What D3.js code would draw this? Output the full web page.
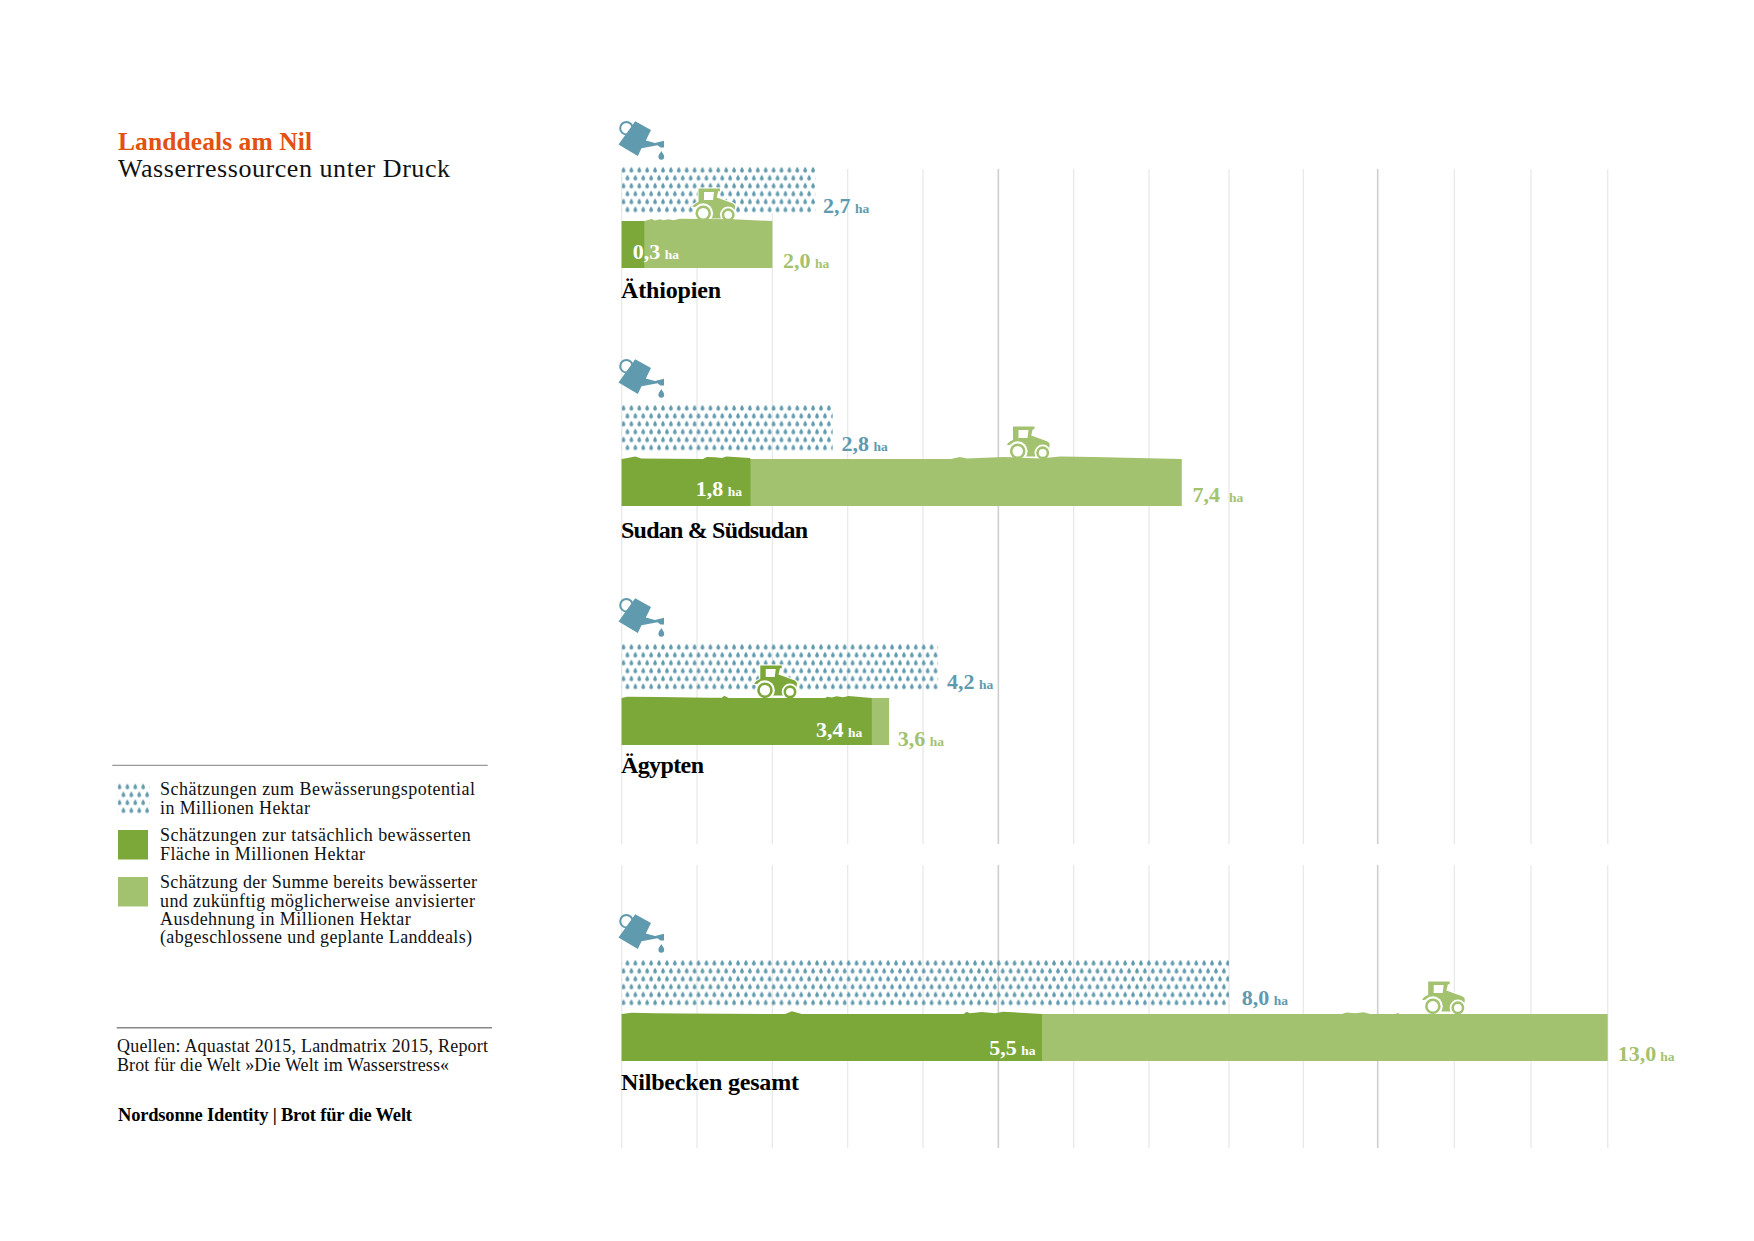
<!DOCTYPE html>
<html>
<head>
<meta charset="utf-8">
<script src="https://cdn.jsdelivr.net/npm/d3@7"></script>
<style>
  html, body { margin: 0; background: #fff; }
  text { font-family: "Liberation Serif", serif; }
</style>
</head>
<body>
<div id="container"></div>
<script>
/* DATA */
const regions = ["Äthiopien", "Sudan & Südsudan", "Ägypten", "Nilbecken gesamt"];
const gridTicks = [0, 1, 2, 3, 4, 5, 6, 7, 8, 9, 10, 11, 12, 13];

// the drawn lengths do not always agree with the printed labels
const potential = [2.57, 2.8, 4.2, 8.0];
const irrigated = [0.3, 1.71, 3.32, 5.58];
const planned = [2.0, 7.41, 3.55, 13.0];
const potentialLabels = ["2,7", "2,8", "4,2", "8,0"];
const irrigatedLabels = ["0,3", "1,8", "3,4", "5,5"];
const plannedLabels = ["2,0", "7,4", "3,6", "13,0"];
const tractorAt = [0.94, 5.115, 1.76, 10.58];

// bumpy top of the bars: [value, height above the bar]
const irrigatedRidge = [
  [],
  [[0.08, 1], [0.18, 2.5], [0.26, 0.5], [1.08, 0], [1.13, 2], [1.24, 1.7], [1.33, 1], [1.39, 2.5], [1.7, 1]],
  [[0.07, 1.3], [0.49, 1], [1.15, 0.3], [1.33, 0.3], [1.36, 2.3], [1.42, 0], [2.7, 0], [2.73, 1.3], [2.79, 0.5], [2.85, 1.7], [2.94, 0.7], [3.01, 2]],
  [[0.13, 1.3], [0.44, 0.8], [0.8, 0.5], [1.99, 0], [2.17, 0], [2.26, 2.7], [2.39, 0], [4.54, 0], [4.58, 2.3], [4.62, 0.7], [4.78, 2], [4.96, 0.7], [5.06, 2.3]]
];
const plannedRidge = [
  [[0.3, 0], [0.4, 2], [0.44, 0.5], [0.51, 1.7], [0.55, 0.7], [0.62, 1.7], [0.69, 0.7], [0.77, 2.3], [1.48, 1.7]],
  [[4.37, 0], [4.49, 2], [4.58, 0.5], [5.07, 2], [5.55, 0.5], [5.82, 2.5], [6.26, 2]],
  [],
  [[9.52, 0], [9.58, 1.5], [9.7, 0.7], [9.81, 1.7], [9.9, 0], [10.23, 0], [10.26, 1], [10.29, 0]]
];

const legendLines = [
  ["Schätzungen zum Bewässerungspotential", "in Millionen Hektar"],
  ["Schätzungen zur tatsächlich bewässerten", "Fläche in Millionen Hektar"],
  ["Schätzung der Summe bereits bewässerter", "und zukünftig möglicherweise anvisierter", "Ausdehnung in Millionen Hektar", "(abgeschlossene und geplante Landdeals)"]
];

/* LAYOUT */
const width = 1754, height = 1241;
const BLUE = "#609aae", DARK = "#7ba838", LIGHT = "#a3c270", ORANGE = "#e4500f", INK = "#111";
const barTop = [221, 459, 698, 1014];
const barHeight = 47;
const tractorColor = [LIGHT, LIGHT, DARK, LIGHT];
const dropSwap = [false, false, false, true];

// grid is not quite even in the original, so the scale has a few break points
const xScale = d3.scaleLinear()
  .domain([0, 7, 8, 10, 13])
  .range([621.7, 1149, 1229, 1377.7, 1607.7]);

const svg = d3.select("#container")
  .append("svg")
  .attr("width", width)
  .attr("height", height)
  .style("display", "block");

function label(x, y, str, size, opts = {}) {
  const t = svg.append("text")
    .attr("x", x)
    .attr("y", y)
    .attr("font-size", size)
    .attr("font-weight", opts.bold ? "bold" : "normal")
    .attr("fill", opts.fill || INK)
    .text(str);
  if (opts.len) t.attr("textLength", opts.len);
  return t;
}

/* DROP PATTERNS */
const DROP = "M0,-3.3C0.7,-1.8 1.85,-0.8 1.85,0.8A1.85,1.85 0 1 1 -1.85,0.8C-1.85,-0.8 -0.7,-1.8 0,-3.3Z";
const defs = svg.append("defs");

function dropPattern(id, originX, originY, swap) {
  const p = defs.append("pattern")
    .attr("id", id)
    .attr("patternUnits", "userSpaceOnUse")
    .attr("width", 7.9)
    .attr("height", 15.8)
    .attr("patternTransform", `translate(${originX},${originY})`);
  p.selectAll("path")
    .data(swap ? [[5.95, 4], [2, 11.9]] : [[2, 4], [5.95, 11.9]])
    .join("path")
    .attr("d", DROP)
    .attr("fill", BLUE)
    .attr("transform", d => `translate(${d[0]},${d[1]})`);
}

/* GRID */
const gridPanels = [[169, 844], [865, 1148]];
gridPanels.forEach(panel => {
  svg.append("g").selectAll("line")
    .data(gridTicks)
    .join("line")
    .attr("x1", d => xScale(d))
    .attr("x2", d => xScale(d))
    .attr("y1", panel[0])
    .attr("y2", panel[1])
    .attr("stroke", d => d % 5 === 0 && d > 0 ? "#cfcfcf" : "#e9e9e9")
    .attr("stroke-width", d => d % 5 === 0 && d > 0 ? 1.6 : 1.3);
});

/* ICONS */
function wateringCan(x, y) {
  const g = svg.append("g").attr("transform", `translate(${x},${y})`).attr("fill", BLUE);
  g.append("circle").attr("cx", 7.4).attr("cy", 8.2).attr("r", 6.2)
    .attr("fill", "none").attr("stroke", BLUE).attr("stroke-width", 2);
  g.append("path").attr("d", "M16.2,1.2L32,10L26.8,20.5L36,23L45,20.7L45,27.5L41.5,27.5L38.5,25.2L22.5,28.3L18.8,36L-0.5,24.5Z");
  g.append("path").attr("d", "M42.3,31C43.2,33 45.2,34.4 45.2,36.8A2.9,2.9 0 1 1 39.4,36.8C39.4,34.4 41.4,33 42.3,31Z");
}

function tractor(x, y, color) {
  const g = svg.append("g").attr("transform", `translate(${x},${y})`);
  g.append("path")
    .attr("d", "M6,0H27.5V2.7H25.7L24.2,9L40,14.7Q42.7,16 42.7,18L42,23L36,30H18L10,24L3,18.5L0,18.5Q1,15.5 6,13.5Z")
    .attr("fill", color)
    .attr("stroke", "#fff")
    .attr("stroke-width", 2)
    .attr("paint-order", "stroke");
  g.append("path").attr("d", "M11.5,3.5H21.5L20.5,11.5H11.5Z").attr("fill", "#fff");
  // rear and front wheel with the white gap under the body
  [[10.7, 24.7, 9.9, 6.5], [35.7, 26.3, 8.2, 5.2]].forEach(w => {
    g.append("circle").attr("cx", w[0]).attr("cy", w[1]).attr("r", w[2]).attr("fill", "#fff");
    g.append("circle").attr("cx", w[0]).attr("cy", w[1]).attr("r", w[3])
      .attr("fill", "#fff").attr("stroke", color).attr("stroke-width", 2.6);
  });
}

/* BARS */
const ridgeArea = (top) => d3.area()
  .x(d => xScale(d[0]))
  .y0(top + barHeight)
  .y1(d => top - d[1]);

function ridgeBar(top, end, ridge, start, fill) {
  const pts = [[start, 0], ...ridge, [end, 0]];
  svg.append("path")
    .attr("d", ridgeArea(top)(pts))
    .attr("fill", fill);
}

function valueLabel(x, y, str, fill, gap = 4.5) {
  const num = label(x, y, str, 22, { bold: true, fill: fill });
  label(x + num.node().getComputedTextLength() + gap, y, "ha", 13.5, { bold: true, fill: fill });
}

// offsets of the number labels from the ends of their bars
const potentialDx = [7.7, 9, 9, 12.7];
const potentialDy = [-8, -8, -8.7, -9];
const plannedDx = [10.6, 10.7, 8.7, 10];
const plannedDy = [47, 42.7, 47.7, 47.3];
const plannedGap = [4.5, 9, 4.5, 4];
const irrigatedDx = [-11.6, -54.7, -55.7, -52.7];
const irrigatedDy = [38, 37, 38.7, 41];
const regionDy = [77, 78.7, 74.7, 75.5];
const regionLen = [100, 187, 83, 178];

regions.forEach((region, i) => {
  const top = barTop[i];
  const dropY = top - 51;

  // white under the first block of drops, the grid does not show through there
  if (i === 0) {
    svg.append("rect")
      .attr("x", xScale(0) + 1)
      .attr("y", dropY - 4)
      .attr("width", xScale(potential[i]) - xScale(0))
      .attr("height", 47.4)
      .attr("fill", "#fff");
  }

  wateringCan(xScale(0) - 2.7, dropY - 50);

  dropPattern(`drops-${i}`, xScale(0) - 0.2, dropY - 4, dropSwap[i]);
  svg.append("rect")
    .attr("x", xScale(0))
    .attr("y", dropY - 4)
    .attr("width", xScale(potential[i]) - xScale(0))
    .attr("height", 47.4)
    .attr("fill", `url(#drops-${i})`);

  tractor(xScale(tractorAt[i]), top - 32.5, tractorColor[i]);

  ridgeBar(top, planned[i], plannedRidge[i], 0, LIGHT);
  ridgeBar(top, irrigated[i], irrigatedRidge[i], 0, DARK);

  valueLabel(xScale(potential[i]) + potentialDx[i], top + potentialDy[i], potentialLabels[i], BLUE);
  valueLabel(xScale(planned[i]) + plannedDx[i], top + plannedDy[i], plannedLabels[i], LIGHT, plannedGap[i]);
  const whiteX = i === 0 ? xScale(0) + 11 : xScale(irrigated[i]) + irrigatedDx[i];
  valueLabel(whiteX, top + irrigatedDy[i], irrigatedLabels[i], "#fff");

  label(xScale(0) - 0.7, top + regionDy[i], region, 24, { bold: true, fill: "#000", len: regionLen[i] });
});

/* TITLE */
label(118, 150.3, "Landdeals am Nil", 25.5, { bold: true, fill: ORANGE, len: 194 });
label(118, 176.7, "Wasserressourcen unter Druck", 26, { len: 332 });

/* LEGEND */
svg.append("line")
  .attr("x1", 112.3).attr("x2", 487.7)
  .attr("y1", 765.3).attr("y2", 765.3)
  .attr("stroke", "#999").attr("stroke-width", 1.3);

dropPattern("drops-legend", 117.5, 782.7, false);
svg.append("rect")
  .attr("x", 117.7).attr("y", 782.7)
  .attr("width", 31.6).attr("height", 31.6)
  .attr("fill", "url(#drops-legend)");
svg.append("rect").attr("x", 118).attr("y", 830).attr("width", 30).attr("height", 29.5).attr("fill", DARK);
svg.append("rect").attr("x", 118).attr("y", 877).attr("width", 30).attr("height", 29.5).attr("fill", LIGHT);

const legendY = [[795, 814], [840.7, 860], [888.3, 906.7, 925, 943.3]];
const legendLen = [[315, 150], [310.7, 205], [317, 315, 250.7, 312]];
legendLines.forEach((lines, i) => {
  lines.forEach((line, j) => {
    label(160, legendY[i][j], line, 18, { len: legendLen[i][j] });
  });
});

/* SOURCES */
svg.append("line")
  .attr("x1", 116.7).attr("x2", 492)
  .attr("y1", 1027.7).attr("y2", 1027.7)
  .attr("stroke", "#888").attr("stroke-width", 1.6);
label(117, 1051.7, "Quellen: Aquastat 2015, Landmatrix 2015, Report", 18, { len: 371 });
label(117, 1071, "Brot für die Welt »Die Welt im Wasserstress«", 18, { len: 332 });
label(118, 1121, "Nordsonne Identity | Brot für die Welt", 18.5, { bold: true, fill: "#000", len: 294 });
</script>
</body>
</html>
